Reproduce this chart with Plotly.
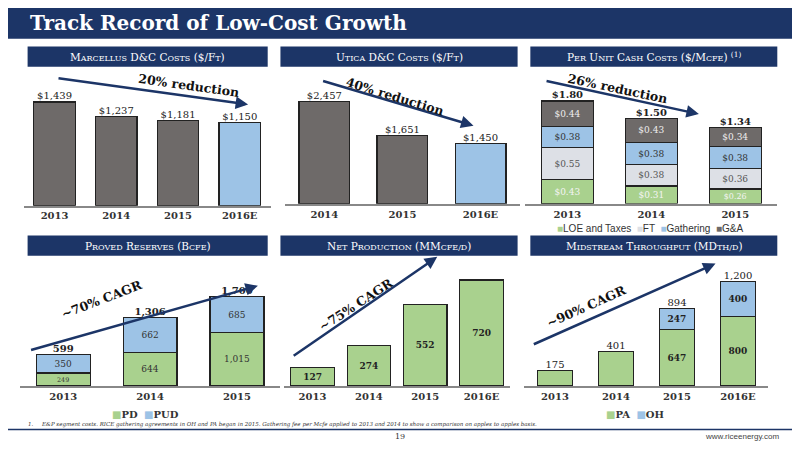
import plotly.graph_objects as go

# data
marc_years = ["2013", "2014", "2015", "2016E"]
marc_cost = [1439, 1237, 1181, 1150]

utica_years = ["2014", "2015", "2016E"]
utica_cost = [2457, 1651, 1450]

unit_years = ["2013", "2014", "2015"]
unit_loe = [0.43, 0.31, 0.26]
unit_ft = [0.55, 0.38, 0.36]
unit_gath = [0.38, 0.38, 0.38]
unit_ga = [0.44, 0.43, 0.34]
unit_total = [1.80, 1.50, 1.34]

res_years = ["2013", "2014", "2015"]
res_pd = [249, 644, 1015]
res_pud = [350, 662, 685]
res_total = [599, 1306, 1700]

prod_years = ["2013", "2014", "2015", "2016E"]
prod_vals = [127, 274, 552, 720]

mid_years = ["2013", "2014", "2015", "2016E"]
mid_pa = [175, 401, 647, 800]
mid_oh = [0, 0, 247, 400]
mid_total = [175, 401, 894, 1200]

NAVY = "#1c3567"
GRAY = "#6e6a69"
BLUE = "#9dc3e6"
GREEN = "#a9d18e"
LGRAY = "#dde0e6"
SERIF = "DejaVu Serif"
W, H = 800, 450          # slide coordinates used below
FW, FH = 784, 434        # figure size (page body keeps an 8px margin)
K = FW / W

def px(x):
    return x / W

def py(y):
    return 1 - y / H

fig = go.Figure()
annos = []
shapes = []

def note(x, y, text, size=10, color="#333", family=SERIF, xanchor="center", **kw):
    # text placed in slide pixels
    annos.append(dict(x=px(x), y=py(y), xref="paper", yref="paper", text=text, showarrow=False,
                      xanchor=xanchor, yanchor="middle", font=dict(family=family, size=size, color=color), **kw))

def bar(x, y, color, ax, w, text=None, tcolor="#222", weight="normal"):
    fig.add_trace(go.Bar(
        x=x, y=y, width=w, marker=dict(color=color, line=dict(color="#222", width=1.2)),
        xaxis="x" + ax, yaxis="y" + ax, showlegend=False,
        text=text, textposition="inside" if text else "none", insidetextanchor="middle",
        textfont=dict(family=SERIF, size=9, color=tcolor, weight=weight), hoverinfo="skip"))

def top_labels(x, y, labels, ax, size=10, weight="normal"):
    fig.add_trace(go.Scatter(
        x=x, y=y, text=labels, mode="text", textposition="top center", cliponaxis=False,
        xaxis="x" + ax, yaxis="y" + ax, showlegend=False, hoverinfo="skip",
        textfont=dict(family=SERIF, size=size, color="#222", weight=weight)))

# panel 1
bar(marc_years, marc_cost, [GRAY, GRAY, GRAY, BLUE], "", 0.67)
top_labels(marc_years, marc_cost, [f"${v:,}" for v in marc_cost], "")
# panel 2
bar(utica_years, utica_cost, [GRAY, GRAY, BLUE], "2", 0.65)
top_labels(utica_years, utica_cost, [f"${v:,}" for v in utica_cost], "2")
# panel 3
lab = lambda vals: [f"${v:.2f}" for v in vals]
bar(unit_years, unit_loe, GREEN, "3", 0.62, lab(unit_loe), "#f4f4f4")
bar(unit_years, unit_ft, LGRAY, "3", 0.62, lab(unit_ft), "#555")
bar(unit_years, unit_gath, BLUE, "3", 0.62, lab(unit_gath), "#333")
bar(unit_years, unit_ga, GRAY, "3", 0.62, lab(unit_ga), "#eee")
top_labels(unit_years, unit_total, [f"${v:.2f}" for v in unit_total], "3", weight="bold")
# panel 4
bar(res_years, res_pd, GREEN, "4", 0.62, [f"{v:,}" for v in res_pd], "#333")
bar(res_years, res_pud, BLUE, "4", 0.62, [f"{v:,}" for v in res_pud], "#333")
top_labels(res_years, res_total, [f"{v:,}" for v in res_total], "4", weight="bold")
# panel 5
bar(prod_years, prod_vals, GREEN, "5", 0.77, [str(v) for v in prod_vals], "#222", "bold")
# panel 6
bar(mid_years, mid_pa, GREEN, "6", 0.58, ["" if v in (175, 401) else str(v) for v in mid_pa], "#222", "bold")
bar(mid_years, mid_oh, BLUE, "6", 0.58, [str(v) if v else "" for v in mid_oh], "#222", "bold")
top_labels(mid_years, mid_total, [f"{v:,}" for v in mid_total], "6")

def axes(ax, xd, yd, ymax):
    xa = dict(domain=[px(xd[0]), px(xd[1])], anchor="y" + ax, type="category", showline=True,
              linecolor="#888", linewidth=1.5, ticks="", showgrid=False,
              tickfont=dict(family=SERIF, size=10, color="#333", weight="bold"))
    ya = dict(domain=[py(yd[1]), py(yd[0])], anchor="x" + ax, range=[0, ymax], visible=False,
              showgrid=False)
    fig.update_layout(**{"xaxis" + ax: xa, "yaxis" + ax: ya})

axes("", (16, 268), (68, 205), 1833)
axes("2", (283, 522), (68, 203), 3130)
axes("3", (528, 785), (68, 203), 2.28)
axes("4", (12, 278), (265, 392), 2330)
axes("5", (282, 512), (265, 392), 831)
axes("6", (527, 776), (265, 392), 1410)

# header band
shapes.append(dict(type="rect", xref="paper", yref="paper", x0=0, x1=1, y0=py(32), y1=1,
                   fillcolor=NAVY, line_width=0, layer="below"))
note(20, 16, "<b>Track Record of Low-Cost Growth</b>", size=20, color="white", xanchor="left")

def sc(s):
    # small-caps look
    out = []
    for w in s.split(" "):
        out.append(w[0] + "<span style='font-size:8px'>" + w[1:].upper() + "</span>")
    return " ".join(out)

titles = [
    ((20, 265, 40, 61), sc("Marcellus") + " D&C " + sc("Costs") + " ($/F<span style='font-size:8px'>T</span>)"),
    ((278, 520, 40, 61), sc("Utica") + " D&C " + sc("Costs") + " ($/F<span style='font-size:8px'>T</span>)"),
    ((533, 785, 40, 61), sc("Per") + " " + sc("Unit") + " " + sc("Cash") + " " + sc("Costs") + " ($/M<span style='font-size:8px'>CFE</span>) <sup>(1)</sup>"),
    ((20, 265, 236, 257), sc("Proved") + " " + sc("Reserves") + " (B<span style='font-size:8px'>CFE</span>)"),
    ((278, 520, 236, 257), sc("Net") + " " + sc("Production") + " (MM<span style='font-size:8px'>CFE/D</span>)"),
    ((533, 785, 236, 257), sc("Midstream") + " " + sc("Throughput") + " (MD<span style='font-size:8px'>TH/D</span>)"),
]
for (x0, x1, y0, y1), t in titles:
    shapes.append(dict(type="rect", xref="paper", yref="paper", x0=px(x0), x1=px(x1), y0=py(y1), y1=py(y0),
                       fillcolor=NAVY, line_width=0, layer="below"))
    note((x0 + x1) / 2, (y0 + y1) / 2, t, size=10.5, color="white")

# trend arrows and labels
arrows = [
    ((50, 73), (245, 100), "20% reduction", (185, 80), 8),
    ((320, 76), (475, 122), "40% reduction", (395, 92), 17),
    ((548, 76), (705, 110), "26% reduction", (622, 83), 12),
    ((22, 354), (255, 288), "~70% CAGR", (95, 302), -21),
    ((290, 360), (438, 258), "~75% CAGR", (355, 307), -33),
    ((535, 348), (722, 265), "~90% CAGR", (590, 310), -24),
]
for (sx, sy), (ex, ey), t, (tx, ty), ang in arrows:
    annos.append(dict(x=px(ex), y=py(ey), xref="paper", yref="paper", ax=(sx - ex) * K, ay=(sy - ey) * K,
                      showarrow=True, arrowhead=2, arrowsize=1, arrowwidth=2.5, arrowcolor=NAVY, text=""))
    note(tx, ty, "<b>" + t + "</b>", size=12.5, color="#111", textangle=ang)

# legends drawn as text
def legend(x, y, items, family="Liberation Sans"):
    txt = "  ".join(f"<span style='color:{c}'>■</span>{n}" for n, c in items)
    note(x, y, txt, size=10, family=family, color="#333")

legend(655, 229, [("LOE and Taxes", GREEN), ("FT", LGRAY), ("Gathering", BLUE), ("G&A", GRAY)])
legend(140, 421, [("<b>PD</b>", GREEN), ("<b>PUD</b>", BLUE)], SERIF)
legend(640, 421, [("<b>PA</b>", GREEN), ("<b>OH</b>", BLUE)], SERIF)

# footer
shapes.append(dict(type="line", xref="paper", yref="paper", x0=0, x1=1, y0=py(437), y1=py(437),
                   line=dict(color=NAVY, width=1.5)))
note(18, 432, "<i>1.     E&P segment costs. RICE gathering agreements in OH and PA began in 2015. Gathering fee per Mcfe applied to 2013 and 2014 to show a comparison on apples to apples basis.</i>",
     size=5.5, xanchor="left")
note(400, 444, "19", size=8)
note(790, 444, "www.riceenergy.com", size=8, family="Liberation Sans", color="#444", xanchor="right")

fig.update_layout(
    width=FW, height=FH, margin=dict(l=0, r=0, t=0, b=0), plot_bgcolor="white", paper_bgcolor="white",
    barmode="stack", showlegend=False, annotations=annos, shapes=shapes,
)
fig.write_html("out.html")
